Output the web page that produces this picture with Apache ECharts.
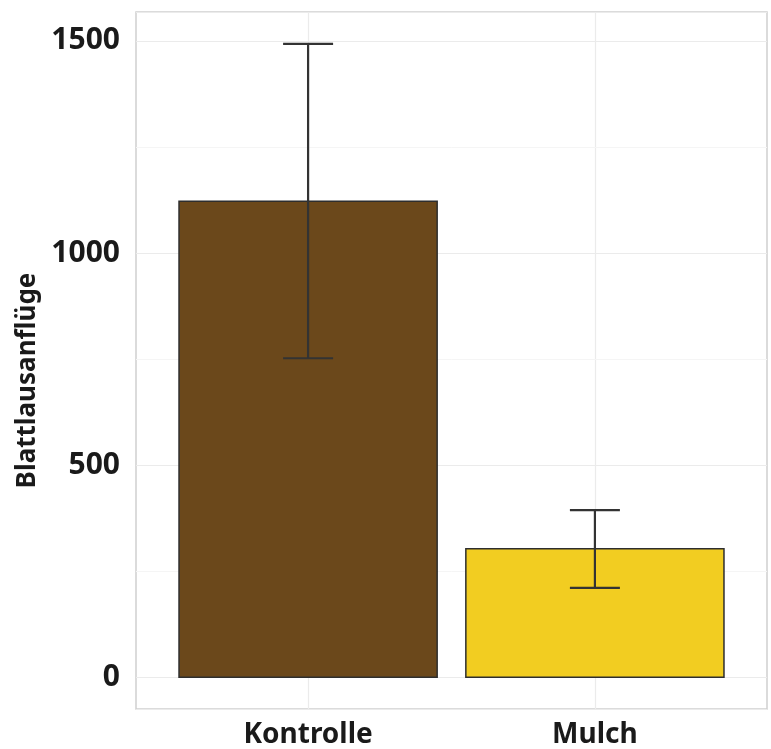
<!DOCTYPE html>
<html>
<head>
<meta charset="utf-8">
<script src="https://cdn.jsdelivr.net/npm/echarts@6/dist/echarts.min.js"></script>
<style>
html,body{margin:0;padding:0;background:#fff;}
#chart{width:771px;height:749px;}
</style>
</head>
<body>
<div id="chart"></div>
<script>
// ---- data ----
const categories = ['Kontrolle', 'Mulch'];
const means = [1122, 303];
const upperErr = [1493, 394];
const lowerErr = [752, 211];
const barColors = ['#6B481B', '#F2CD21'];
const yMajorTicks = [0, 500, 1000, 1500];
const yMinorTicks = [250, 750, 1250];

// x positions (scaled by 10 so axis min/max are integers)
const xPos = categories.map((c, i) => (i + 1) * 10);
const yMin = -74.6, yMax = 1567.9;

const barData = categories.map((c, i) => [xPos[i], means[i], i]);
const errData = categories.map((c, i) => [xPos[i], lowerErr[i], upperErr[i]]);

const chart = echarts.init(document.getElementById('chart'));
const font = 'Noto Sans';

chart.setOption({
  animation: false,
  backgroundColor: '#ffffff',
  grid: {
    left: 136, right: 4, top: 12, bottom: 39,
    show: true, borderColor: '#d0d0d0', borderWidth: 1.5, backgroundColor: 'transparent'
  },
  xAxis: {
    type: 'value', min: 4, max: 26, interval: 2,
    axisLine: { show: false }, axisTick: { show: false },
    splitLine: { show: false },
    axisLabel: {
      margin: 12,
      fontFamily: font, fontWeight: 'bold', fontSize: 28, color: '#1a1a1a',
      formatter: v => { const i = xPos.indexOf(Math.round(v)); return (Math.abs(v - Math.round(v)) < 1e-6 && i >= 0) ? categories[i] : ''; }
    }
  },
  yAxis: {
    type: 'value', min: yMin, max: yMax, splitNumber: 3,
    name: 'Blattlausanflüge', nameLocation: 'middle', nameRotate: 90, nameGap: 92,
    nameTextStyle: { fontFamily: font, fontWeight: 'bold', fontSize: 26, color: '#1a1a1a', padding: [0, 40, 0, 0] },
    axisLine: { show: false }, axisTick: { show: false },
    splitLine: { show: true, lineStyle: { color: '#ebebeb', width: 1.2 } },
    axisLabel: {
      margin: 16, showMinLabel: false, showMaxLabel: false,
      fontFamily: font, fontWeight: 'bold', fontSize: 30, color: '#1a1a1a',
      formatter: v => yMajorTicks.indexOf(v) >= 0 ? String(v) : ''
    }
  },
  series: [
    {
      type: 'custom',
      silent: true,
      z: 1,
      data: [],
      renderItem: () => null,
      markLine: {
        silent: true, symbol: 'none', label: { show: false }, z: 1,
        lineStyle: { type: 'solid', width: 1 },
        data: [
          ...xPos.map(x => ({ xAxis: x, lineStyle: { color: '#ebebeb', width: 1.2 } })),
          ...yMinorTicks.map(y => ({ yAxis: y, lineStyle: { color: '#f5f5f5', width: 1 } }))
        ]
      }
    },
    {
      type: 'custom',
      silent: true,
      z: 3,
      data: barData,
      renderItem: (params, api) => {
        const x = api.value(0), y = api.value(1), idx = api.value(2);
        const p1 = api.coord([x - 4.5, y]);
        const p2 = api.coord([x + 4.5, 0]);
        return {
          type: 'rect',
          shape: { x: p1[0], y: p1[1], width: p2[0] - p1[0], height: p2[1] - p1[1] },
          style: { fill: barColors[idx], stroke: '#2e2e2e', lineWidth: 1.5 }
        };
      }
    },
    {
      type: 'custom',
      silent: true,
      z: 5,
      data: errData,
      renderItem: (params, api) => {
        const x = api.value(0);
        const lo = api.coord([x, api.value(1)]);
        const hi = api.coord([x, api.value(2)]);
        const hw = 25;
        const st = { stroke: '#333333', lineWidth: 2.2 };
        return {
          type: 'group',
          children: [
            { type: 'line', shape: { x1: hi[0], y1: hi[1], x2: lo[0], y2: lo[1] }, style: st },
            { type: 'line', shape: { x1: hi[0] - hw, y1: hi[1], x2: hi[0] + hw, y2: hi[1] }, style: st },
            { type: 'line', shape: { x1: lo[0] - hw, y1: lo[1], x2: lo[0] + hw, y2: lo[1] }, style: st }
          ]
        };
      }
    }
  ]
});
</script>
</body>
</html>
